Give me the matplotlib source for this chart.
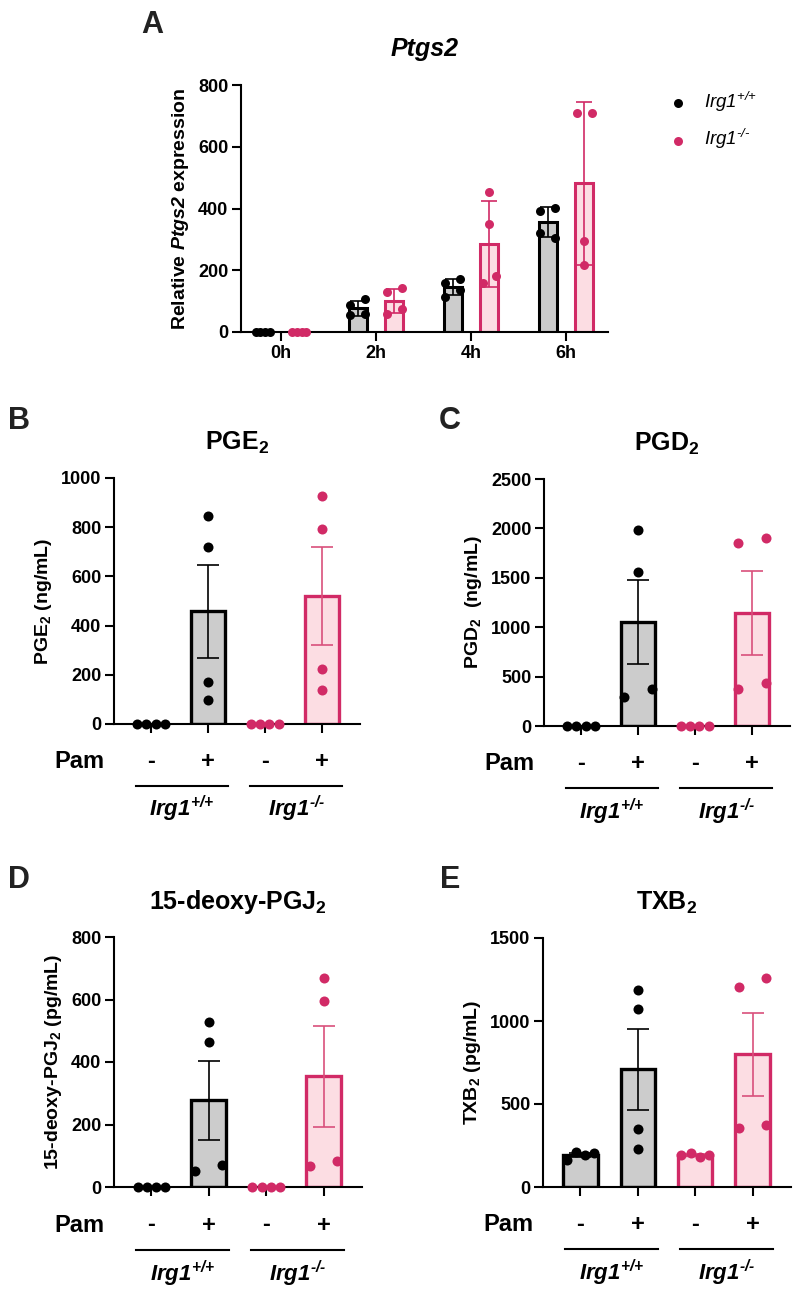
import numpy as np
import matplotlib
matplotlib.use('Agg')
import matplotlib.pyplot as plt

# ---- data ----
times = ['0h', '2h', '4h', '6h']
ptgs2_wt = [[1, 1, 1, 1], [86, 108, 54, 59], [159, 173, 114, 135], [391, 402, 322, 306]]
ptgs2_ko = [[1, 1, 1, 1], [128, 141, 59, 76], [452, 349, 160, 182], [708, 708, 294, 216]]

pam_labels = ['-', '+', '-', '+']
# groups: Irg1+/+ -, Irg1+/+ +, Irg1-/- -, Irg1-/- +
pge2 = [[0, 0, 0, 0], [845, 720, 169, 99], [0, 0, 0, 0], [926, 793, 223, 138]]
pgd2 = [[0, 0, 0, 0], [1980, 1562, 297, 374], [0, 0, 0, 0], [1849, 1906, 374, 435]]
pgj2 = [[0, 0, 0, 0], [527, 463, 50, 72], [0, 0, 0, 0], [670, 596, 66, 83]]
txb2 = [[162, 212, 192, 202], [1184, 1075, 348, 228], [192, 202, 182, 192], [1202, 1258, 358, 376]]

# horizontal scatter of the dots (style only)
spread = [-0.24, -0.08, 0.08, 0.24]
pair = [-0.24, 0.24, -0.24, 0.24]
centre = [0, 0, 0, 0]
low_pair = [0, 0, -0.24, 0.24]
jit_pge2 = [spread, centre, spread, centre]
jit_pgd2 = [spread, low_pair, spread, pair]
jit_pgj2 = [spread, low_pair, spread, low_pair]
jit_txb2 = [spread, centre, spread, pair]

a_spread = [-0.075, -0.025, 0.025, 0.075]
a_pair = [-0.078, 0.078, -0.078, 0.078]
jit_a_wt = [a_spread, a_pair, a_pair, a_pair]
jit_a_ko = [a_spread, a_pair, [0, 0, -0.07, 0.07], [-0.078, 0.078, 0, 0]]

BLACK = '#000000'
GREY = '#cccccc'
PINK = '#d12a66'
LIGHT = '#fcdde3'
ERRPINK = '#d9507c'

plt.rcParams['font.family'] = ['Liberation Sans', 'DejaVu Sans']
plt.rcParams['font.weight'] = 'bold'
plt.rcParams['mathtext.fontset'] = 'custom'
plt.rcParams['mathtext.rm'] = 'Liberation Sans:bold'
plt.rcParams['mathtext.it'] = 'Liberation Sans:italic:bold'
plt.rcParams['mathtext.bf'] = 'Liberation Sans:bold'
# cal / sf slots used for italic words so that digits stay italic too
plt.rcParams['mathtext.cal'] = 'Liberation Sans:italic:bold'
plt.rcParams['mathtext.sf'] = 'Liberation Sans:italic:normal'
plt.rcParams['axes.linewidth'] = 1.5

W, H = 800, 1296
fig = plt.figure(figsize=(W / 100, H / 100), dpi=100)


def rect(l, t, r, b):
    return [l / W, 1 - b / H, (r - l) / W, (b - t) / H]


def genotype(sup, bold=True):
    f = 'mathcal' if bold else 'mathsf'
    return r'$\%s{Irg1}^{\%s{%s}}$' % (f, f, sup)


HY = '\u2010'
WT = genotype('+/{+}')
KO = genotype(HY + '/' + HY)


def style_axes(ax):
    for s in ['top', 'right']:
        ax.spines[s].set_visible(False)
    ax.tick_params(axis='both', length=6.5, width=1.5, labelsize=13, pad=2.5)
    for t in ax.get_yticklabels() + ax.get_xticklabels():
        t.set_fontweight('bold')


# ---- panel A ----
ax = fig.add_axes(rect(241, 85, 608, 332))
x = np.arange(len(times))
for i in range(len(times)):
    for vals, jit, off, ec, fc, erc, lab in [
            (ptgs2_wt[i], jit_a_wt[i], -0.192, BLACK, GREY, BLACK, genotype('+/{+}', False)),
            (ptgs2_ko[i], jit_a_ko[i], 0.192, PINK, LIGHT, PINK, genotype(HY + '/' + HY, False))]:
        m = np.mean(vals)
        sd = np.std(vals, ddof=1)
        ax.bar(x[i] + off, m, width=0.19, color=fc, edgecolor=ec, linewidth=2.2, zorder=2)
        if sd > 0:
            ax.errorbar(x[i] + off, m, yerr=sd, fmt='none', ecolor=erc, elinewidth=1.2,
                        capsize=5.5, capthick=1.2, zorder=3)
        ax.scatter(x[i] + off + np.array(jit), vals, s=42, color=ec, linewidths=0,
                   zorder=4, clip_on=False, label=lab if i == 0 else None)
ax.set_xlim(-0.42, 3.44)
ax.set_ylim(0, 800)
ax.set_yticks([0, 200, 400, 600, 800])
ax.set_xticks(x)
ax.set_xticklabels(times)
ax.set_ylabel(r'Relative $\mathcal{Ptgs2}$ expression', fontsize=14, fontweight='bold', labelpad=5)
ax.set_title('Ptgs2', fontsize=18, fontweight='bold', fontstyle='italic', pad=21)
style_axes(ax)
leg = ax.legend(loc='upper left', bbox_to_anchor=(0.8125, 0.9435), bbox_transform=fig.transFigure,
                frameon=False, fontsize=13.5, handletextpad=0.8, labelspacing=0.7,
                handlelength=1.2, markerscale=1.0)


# ---- panels B-E ----
def lipid_panel(box, vals, jit, title, ylabel, yticks, letter_xy):
    ax = fig.add_axes(rect(*box))
    for i, v in enumerate(vals):
        wt = i < 2
        ec = BLACK if wt else PINK
        fc = GREY if wt else LIGHT
        erc = BLACK if wt else ERRPINK
        m = np.mean(v)
        sem = np.std(v, ddof=1) / np.sqrt(len(v))
        ax.bar(i, m, width=0.6, color=fc, edgecolor=ec, linewidth=2.4, zorder=2)
        if sem > 0:
            ax.errorbar(i, m, yerr=sem, fmt='none', ecolor=erc, elinewidth=1.2,
                        capsize=8, capthick=1.2, zorder=3)
        ax.scatter(i + np.array(jit[i]), v, s=52, color=ec, linewidths=0,
                   zorder=4, clip_on=False)
    ax.set_xlim(-0.65, 3.67)
    ax.set_ylim(yticks[0], yticks[-1])
    ax.set_yticks(yticks)
    ax.set_xticks(range(4))
    ax.set_xticklabels([])
    ax.set_ylabel(ylabel, fontsize=14, fontweight='bold', labelpad=5)
    ax.set_title(title, fontsize=18, fontweight='bold', pad=20)
    style_axes(ax)

    tr = ax.get_xaxis_transform()
    ax.text(-0.82, -0.178, 'Pam', transform=tr, ha='right', va='baseline',
            fontsize=17, fontweight='bold')
    for i, p in enumerate(pam_labels):
        ax.text(i, -0.178, p, transform=tr, ha='center', va='baseline',
                fontsize=17, fontweight='bold')
    for (x0, x1), lab in [((-0.27, 1.35), WT), ((1.74, 3.36), KO)]:
        ax.plot([x0, x1], [-0.25, -0.25], transform=tr, color='black', lw=1.5, clip_on=False)
        ax.text((x0 + x1) / 2, -0.376, lab, transform=tr, ha='center', va='baseline',
                fontsize=16)
    fig.text(letter_xy[0], letter_xy[1], letter_xy[2], fontsize=22, fontweight='bold',
             va='baseline', color='#222222')
    return ax


lipid_panel((114, 478, 360, 724), pge2, jit_pge2, 'PGE$_2$', 'PGE$_2$ (ng/mL)',
            [0, 200, 400, 600, 800, 1000], (8 / W, 1 - 429 / H, 'B'))
lipid_panel((544, 479, 790, 726), pgd2, jit_pgd2, 'PGD$_2$', 'PGD$_2$  (ng/mL)',
            [0, 500, 1000, 1500, 2000, 2500], (439 / W, 1 - 429 / H, 'C'))
lipid_panel((114, 937, 362, 1187), pgj2, jit_pgj2, '15-deoxy-PGJ$_2$', '15-deoxy-PGJ$_2$ (pg/mL)',
            [0, 200, 400, 600, 800], (8 / W, 1 - 888 / H, 'D'))
lipid_panel((543, 938, 791, 1187), txb2, jit_txb2, 'TXB$_2$', 'TXB$_2$ (pg/mL)',
            [0, 500, 1000, 1500], (440 / W, 1 - 888 / H, 'E'))

fig.text(141 / W, 1 - 33 / H, 'A', fontsize=22, fontweight='bold', va='baseline', color='#222222')

fig.savefig('out.png', dpi=100)
